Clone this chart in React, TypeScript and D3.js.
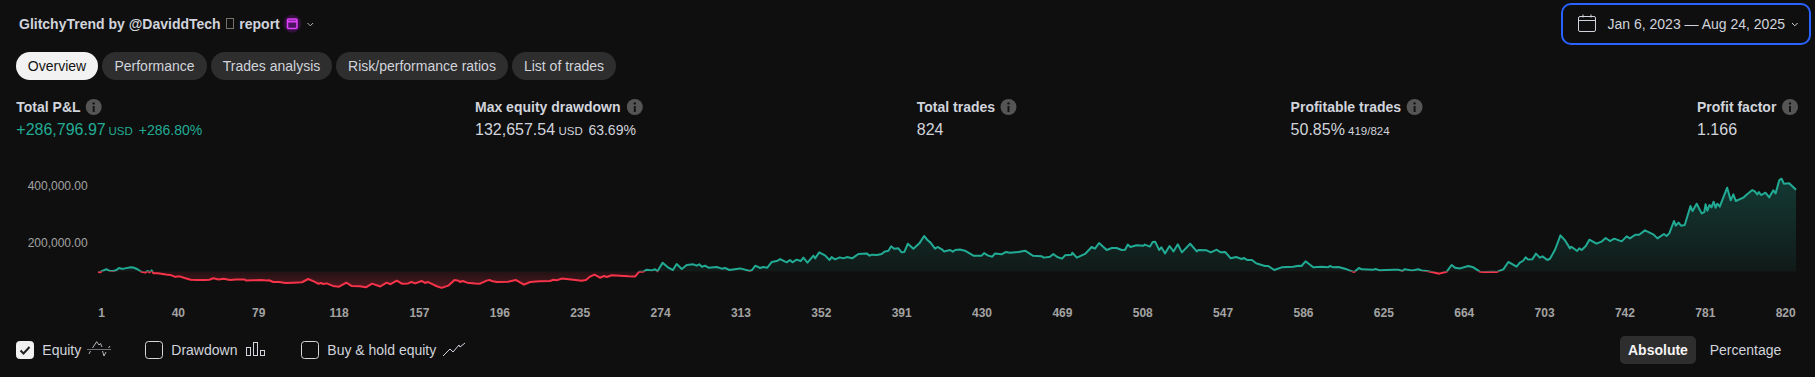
import React from "react";
import * as d3 from "d3";

const titleStart = "GlitchyTrend by @DaviddTech";
const titleEnd = "report";
const tabs = ["Overview", "Performance", "Trades analysis", "Risk/performance ratios", "List of trades"];
const xTickLabels = [1, 40, 79, 118, 157, 196, 235, 274, 313, 352, 391, 430, 469, 508, 547, 586, 625, 664, 703, 742, 781, 820];
const yTickValues = [200000, 400000];
const initialCapital = 100000;

// [trade number, equity in thousands USD], read off the picture
const equityPoints: [number, number][] = [
  [1, 98], [2, 97], [3, 102], [4, 105], [5, 108], [6.5, 103], [8.5, 102], [10, 105], [11, 112], [12.5, 110], [14, 111], [17, 115], [18, 114], [20, 109], [22, 99], [24, 96], [25, 102], [26, 97], [27, 104], [28, 93.5], [30, 93.5], [34, 89], [36, 88], [38.5, 81], [39.5, 82], [41, 82], [43, 77], [46, 71], [49, 70], [53, 70], [55, 71], [57, 76], [59.5, 72], [62, 74], [65, 70], [68, 72], [72, 72], [73, 68], [76, 69], [80, 70], [83, 68], [84, 69], [86, 63], [89, 63], [92, 59], [96, 60.5], [100, 62], [103, 73.5], [106, 64], [108, 56], [109, 59.5], [110.5, 56], [112, 58], [115, 49], [118, 46.5], [121.5, 60.5], [124, 49], [128, 48], [131, 44], [134, 57], [138, 47],
  [141, 60.5], [143, 55], [146, 67.7], [148.4, 57], [151.6, 58], [153, 63], [155, 58], [158, 66.5], [159.7, 59.5], [161, 63], [163, 56], [165.4, 48], [167.8, 42], [171, 50], [174, 70], [176, 67.7], [176.7, 63], [178, 66.5], [180.2, 60.5], [184, 58], [186.4, 57], [189.6, 67.7], [191.2, 70], [192, 66.5], [194.5, 63], [200, 64], [203.7, 70], [207.7, 53.5], [210.7, 63], [215.5, 65.3], [220.4, 66.5], [222, 71], [223.6, 69], [226, 75], [231.7, 71], [235.7, 67.7], [237.8, 70], [239.8, 82], [241.9, 89], [244.6, 78], [246.6, 84], [247.9, 80.6], [250.3, 86.5], [254.3, 85.3], [258.4, 83], [261.6, 82], [263.7, 99.5], [265.7, 99.5], [267.3, 106.5], [269.7, 104], [271.3, 107.7], [272.5, 100.6], [275, 131], [277.8, 113.6],
  [280, 105.3], [281.8, 126.5], [284.3, 109], [286.7, 123], [289.9, 125.3], [291.5, 120.6], [292.8, 125.3], [294, 117], [295.6, 120.6], [297.2, 113.6], [301.3, 116], [303.7, 110], [305.3, 112.4], [307.4, 105.3], [312.6, 111], [317.4, 102], [318.4, 105.3], [320, 120.6], [322.3, 112.4], [323.9, 116], [325.8, 113.6], [328, 133.6], [330.4, 137], [332, 144], [335.2, 132.4], [336.8, 140.6], [338, 132.4], [340, 141.8], [342, 137], [343.3, 149], [345.3, 131], [348.2, 156], [349, 146.5], [351, 167.7], [353.8, 157], [356, 140.6], [357, 151], [358.7, 143], [361, 150], [362.7, 146.5], [364.4, 151], [367, 146.5], [370, 162], [374, 164], [375.4, 156], [376.5, 159.5], [379, 158.3], [381.3, 162], [382.6, 170], [384.6, 173.6], [385.9, 189], [387.3, 180.7], [389.4, 182], [391, 167.7], [392.3, 169], [394, 198], [396.7, 180.7], [399.6, 199.5], [401.9, 225.4], [403.5, 211.3], [405, 202], [407.2, 180.7], [408.4, 186.6], [410.5, 178.3], [411.6, 171], [414.5, 176], [415.8, 170], [417, 176],
  [419.3, 178], [421.7, 173.6], [425.8, 156], [429.8, 156], [431, 165], [433, 156], [435, 152.4], [436.3, 164], [439.5, 160.7], [441.6, 169], [443.6, 166.6], [447.6, 169], [450.9, 173.6], [454.6, 156], [459, 153.6], [460, 149], [463, 152.4], [464.6, 162], [466.5, 151], [468.8, 145.4], [470.3, 157], [473.5, 159.5], [473.8, 166.6], [476, 149], [480, 162], [483.2, 186.6], [484.8, 180.7], [486.8, 200.7], [490.5, 176], [493, 183], [495.3, 183], [497.8, 176], [499.4, 177], [500.7, 195], [502, 186.6], [505, 192.5], [508.3, 191], [509, 195], [511.5, 188], [512.8, 204], [514, 205.4], [516, 176], [517, 185.4], [518.8, 164], [521, 190], [522.9, 171], [525, 196], [527, 167.7], [531, 198], [534.2, 171], [535, 176], [539, 174.8], [541, 167.7], [543.9, 177], [545.8, 167.7], [548, 169], [550.7, 146.5], [553.3, 151], [556, 144], [557, 147.7], [558.8, 140.6],
  [561, 140.6], [563, 128.9], [565.7, 123], [567.3, 119.4], [568.9, 119.4], [571.8, 105.3], [575.4, 114.7], [581, 117], [583.5, 120.6], [585, 119.4], [587, 136], [590.7, 114.7], [594.8, 117], [598, 114.7], [598.8, 119.4], [600.5, 114.7], [603, 116], [607, 107.7], [610.6, 98], [612.9, 112.4], [614.2, 107.7], [620, 106.5], [621, 108.8], [623, 104], [629.6, 106.5], [632, 106.5], [634, 101.8], [635, 107.7], [638.5, 104], [640, 105.3], [641.7, 107.7], [643.3, 104], [645.8, 101.8], [648.2, 98], [651.9, 92.4], [655.5, 99.4], [657.9, 123], [659.5, 113.6], [662, 111], [666, 119.4], [668.4, 114.7], [671.6, 99.4], [673.3, 98], [678, 99.4], [679.7, 98], [681.3, 103], [683, 107.7], [685.4, 133.6], [689.4, 117],
  [691, 131], [692.6, 138], [693.8, 150], [695, 142], [697, 143], [698.8, 163], [700.7, 149], [702, 153.5], [704.3, 140.6], [705.6, 145], [708, 176], [710.7, 227.7], [712.8, 211], [715.3, 181.8], [716, 187.7], [718.8, 172.4], [719.8, 181.8], [721, 176], [723, 190], [724.7, 212.4], [728.2, 198.3], [730.6, 205.4], [732.6, 218.3], [734.7, 207.7], [736.8, 216], [740.4, 206.5], [742.8, 224.2], [744.4, 217], [747, 230], [748.9, 230], [751.7, 245.4], [755.7, 231.3], [757.8, 217], [760.9, 232.4], [762.2, 225.4], [763.5, 234.8], [765.8, 278.4], [766.7, 262], [768, 272.5], [769.2, 262], [771, 264.2], [773.8, 331.4], [774.8, 313.7], [776.8, 339.6], [779.2, 305.5], [780.5, 310], [781.1, 337.3], [782, 314.9], [783, 335], [784, 326.7], [785, 346.7], [786, 325.5], [786.8, 339.6], [788, 329], [791.6, 396], [793.3, 351.4], [794.6, 372.6], [795.8, 349], [799.4, 360.8], [801, 371.4], [803.8, 387.9], [805, 383.2], [806.2, 372.6], [807, 380.8], [808, 370.2], [810.2, 378.5], [812, 362], [814, 386.7], [815.1, 376], [816.9, 423.2], [818, 428], [819.1, 410.3], [821.7, 411.5], [825, 389],
];

const GREEN = "#22ab94";
const RED = "#f7334a";
const BG = "#0f0f0f";
const FONT = "'Liberation Sans', Arial, sans-serif";
const LIGHT = "#d1d4dc";

const x = d3.scaleLinear().domain([1, 825]).range([98, 1796]);
const y = d3.scaleLinear().domain([100000, 400000]).range([271.5, 186.6]);
const fmt = d3.format(",.2f");
const linePath = d3.line<[number, number]>().x((d) => x(d[0])).y((d) => y(d[1] * 1000))(equityPoints) as string;
const areaPath = d3.area<[number, number]>().x((d) => x(d[0])).y0(y(initialCapital)).y1((d) => y(d[1] * 1000))(equityPoints) as string;

const tabBoxes = [[16, 82], [102, 105], [211, 121], [336, 172], [512, 104]];

function Info({ cx, cy }: { cx: number; cy: number }) {
  return (
    <g>
      <circle cx={cx} cy={cy} r={8} fill="#555555" />
      <circle cx={cx} cy={cy - 3.6} r={1.2} fill="#141414" />
      <rect x={cx - 1} y={cy - 1} width={2} height={6} fill="#141414" />
    </g>
  );
}

function Check({ x: cx, on }: { x: number; on?: boolean }) {
  return (
    <g>
      <rect x={cx + 0.5} y={341.5} width={17} height={17} rx={3} fill={on ? "#f2f2f2" : "none"} stroke={on ? "#f2f2f2" : "#d8d8d8"} />
      {on && <path d={`M${cx + 4.5} 350.5 l3 3 l6 -6.5`} fill="none" stroke="#222" strokeWidth={2} />}
    </g>
  );
}

function Metric({ px, label, infoX }: { px: number; label: string; infoX: number }) {
  return (
    <g>
      <text x={px} y={112} fontSize={14} fontWeight={700} fill={LIGHT}>{label}</text>
      <Info cx={infoX} cy={107} />
    </g>
  );
}

export default function App() {
  return (
    <svg width={1815} height={377} style={{ position: "fixed", left: 0, top: 0, display: "block" }} fontFamily={FONT}>
      <defs>
        <linearGradient id="gGreen" gradientUnits="userSpaceOnUse" x1={0} x2={0} y1={180} y2={y(initialCapital)}>
          <stop offset="0" stopColor={GREEN} stopOpacity={0.27} />
          <stop offset="1" stopColor={GREEN} stopOpacity={0.07} />
        </linearGradient>
        <linearGradient id="gRed" gradientUnits="userSpaceOnUse" x1={0} x2={0} y1={y(initialCapital)} y2={290}>
          <stop offset="0" stopColor={RED} stopOpacity={0.08} />
          <stop offset="1" stopColor={RED} stopOpacity={0.3} />
        </linearGradient>
        <clipPath id="above"><rect x={0} y={0} width={1815} height={y(initialCapital)} /></clipPath>
        <clipPath id="below"><rect x={0} y={y(initialCapital)} width={1815} height={100} /></clipPath>
      </defs>
      <rect width={1815} height={377} fill={BG} />

      <text x={19} y={29} fontSize={14} fontWeight={700} fill={LIGHT}>{titleStart}</text>
      <rect x={226.5} y={18.5} width={7} height={10} fill="none" stroke="#77736a" />
      <text x={239.3} y={29} fontSize={14} fontWeight={700} fill={LIGHT}>{titleEnd}</text>
      <circle cx={292.3} cy={23.7} r={9} fill="#32103c" />
      <rect x={287.5} y={19} width={9.5} height={9.5} rx={1} fill="#4a1560" stroke="#e040fb" strokeWidth={1.6} />
      <path d="M287.5 21.5 h9.5" stroke="#e040fb" strokeWidth={2} fill="none" />
      <path d="M307.5 23 l2.8 2.8 l2.8 -2.8" fill="none" stroke="#b2b5be" strokeWidth={1} />

      {tabs.map((t, i) => (
        <g key={t}>
          <rect x={tabBoxes[i][0]} y={52} width={tabBoxes[i][1]} height={28} rx={14} fill={i === 0 ? "#f2f2f2" : "#2e2e2e"} />
          <text x={tabBoxes[i][0] + tabBoxes[i][1] / 2} y={71} fontSize={14} textAnchor="middle" fill={i === 0 ? "#131313" : LIGHT}>{t}</text>
        </g>
      ))}

      <rect x={1562} y={4} width={248} height={40} rx={9} fill="none" stroke="#2962ff" strokeWidth={2} />
      <rect x={1578.5} y={16.5} width={17} height={15} rx={1.5} fill="none" stroke={LIGHT} />
      <path d="M1578.5 20.5 h17 M1583 14.5 v3 M1591 14.5 v3" fill="none" stroke={LIGHT} />
      <text x={1607.5} y={29} fontSize={14} fill={LIGHT}>Jan 6, 2023 — Aug 24, 2025</text>
      <path d="M1792 23 l2.8 2.8 l2.8 -2.8" fill="none" stroke={LIGHT} strokeWidth={1} />

      <Metric px={16.3} label="Total P&L" infoX={93.7} />
      <text x={16.3} y={135} fontSize={16} fill={GREEN}>+286,796.97</text>
      <text x={108.5} y={135} fontSize={11.5} fill={GREEN}>USD</text>
      <text x={138.8} y={135} fontSize={14} fill={GREEN}>+286.80%</text>

      <Metric px={475} label="Max equity drawdown" infoX={634.8} />
      <text x={475} y={135} fontSize={16} fill={LIGHT}>132,657.54</text>
      <text x={558.5} y={135} fontSize={11.5} fill={LIGHT}>USD</text>
      <text x={588.4} y={135} fontSize={14} fill={LIGHT}>63.69%</text>

      <Metric px={916.8} label="Total trades" infoX={1008.5} />
      <text x={916.8} y={135} fontSize={16} fill={LIGHT}>824</text>

      <Metric px={1290.6} label="Profitable trades" infoX={1414.6} />
      <text x={1290.6} y={135} fontSize={16} fill={LIGHT}>50.85%</text>
      <text x={1348} y={135} fontSize={11.5} fill={LIGHT}>419/824</text>

      <Metric px={1697} label="Profit factor" infoX={1790} />
      <text x={1697} y={135} fontSize={16} fill={LIGHT}>1.166</text>

      {yTickValues.map((v) => (
        <text key={v} x={87.7} y={y(v) + 3.5} fontSize={12} textAnchor="end" fill="#a3a3a3">{fmt(v)}</text>
      ))}

      <path d={areaPath} fill="url(#gGreen)" clipPath="url(#above)" />
      <path d={areaPath} fill="url(#gRed)" clipPath="url(#below)" />
      <path d={linePath} fill="none" stroke={GREEN} strokeWidth={2} strokeLinejoin="round" clipPath="url(#above)" />
      <path d={linePath} fill="none" stroke={RED} strokeWidth={2} strokeLinejoin="round" clipPath="url(#below)" />

      {xTickLabels.map((t) => (
        <text key={t} x={t === 1 ? 101.7 : x(t)} y={317} fontSize={12} fontWeight={700} textAnchor="middle" fill="#a3a3a3">{t}</text>
      ))}

      <Check x={16} on />
      <text x={42.3} y={355} fontSize={14} fill={LIGHT}>Equity</text>
      <path d="M87.5 349.5 H111.5" fill="none" stroke={LIGHT} strokeDasharray="1 1" />
      <path d="M92.5 348 L96.7 341.7 L99 345 L100.5 343.5 L102 347 M102.5 351 L104 356 L106 352 M108.5 348 L110 346 M90.5 351 L89 354" fill="none" stroke={LIGHT} strokeWidth={1} opacity={0.85} />

      <Check x={145} />
      <text x={171.3} y={355} fontSize={14} fill={LIGHT}>Drawdown</text>
      <rect x={246.5} y={347.5} width={4} height={8} fill="none" stroke={LIGHT} />
      <rect x={253.5} y={342.5} width={4} height={13} fill="none" stroke={LIGHT} />
      <rect x={260.5} y={350.5} width={4} height={5} fill="none" stroke={LIGHT} />

      <Check x={301} />
      <text x={327.3} y={355} fontSize={14} fill={LIGHT}>Buy &amp; hold equity</text>
      <path d="M443 356 l7 -7 l3 3 l6 -7 l1 2 l5 -4" fill="none" stroke={LIGHT} strokeWidth={1} />

      <rect x={1620} y={336} width={76} height={28} rx={5} fill="#2e2e2e" />
      <text x={1628} y={355} fontSize={14} fontWeight={700} fill="#f5f5f5">Absolute</text>
      <text x={1709.7} y={355} fontSize={14} fill={LIGHT}>Percentage</text>
    </svg>
  );
}
